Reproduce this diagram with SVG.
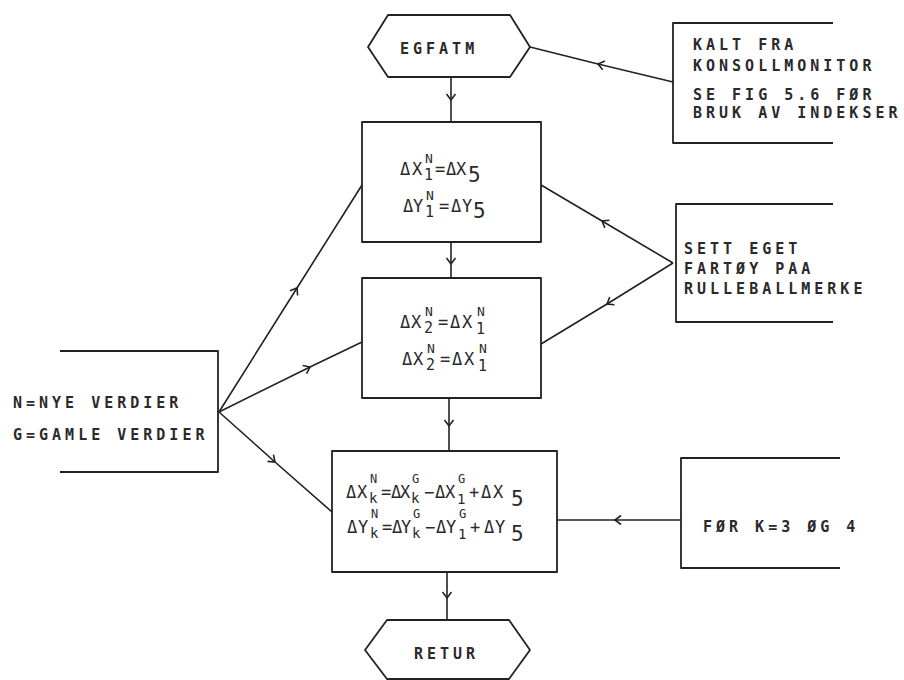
<svg xmlns="http://www.w3.org/2000/svg" width="904" height="680" viewBox="0 0 904 680">
<defs>
<style>
.shape{fill:none;stroke:#222;stroke-width:1.8;stroke-linejoin:round}
.conn{fill:none;stroke:#222;stroke-width:1.6}
.t{font-family:"DejaVu Sans Mono","Liberation Mono",monospace;font-size:15px;font-weight:bold;letter-spacing:4px;fill:#2a2a2a}
.f{font-family:"DejaVu Sans Mono","Liberation Mono",monospace;font-size:17px;fill:#2a2a2a}
.b{font-family:"DejaVu Sans Mono","Liberation Mono",monospace;font-size:15px;fill:#2a2a2a}
.k{font-family:"DejaVu Sans Mono","Liberation Mono",monospace;font-size:14px;fill:#2a2a2a}
.s{font-family:"DejaVu Sans Mono","Liberation Mono",monospace;font-size:13px;fill:#2a2a2a}
.r{font-family:"DejaVu Sans Mono","Liberation Mono",monospace;font-size:12px;fill:#2a2a2a}
.g{font-family:"DejaVu Sans Mono","Liberation Mono",monospace;font-size:21px;fill:#2a2a2a}
</style>
<marker id="v" markerUnits="userSpaceOnUse" markerWidth="14" markerHeight="14" viewBox="-8 -7 14 14" refX="0" refY="0" orient="auto">
<path d="M -6 -4.5 L 0 0 L -6 4.5" fill="none" stroke="#222" stroke-width="1.6"/>
</marker>
</defs>
<rect width="904" height="680" fill="#fff"/>

<g id="connectors">
<polyline class="conn" marker-mid="url(#v)" points="451,77 451,100 451,122"/>
<polyline class="conn" marker-mid="url(#v)" points="451,242 451,264 451,278"/>
<polyline class="conn" marker-mid="url(#v)" points="449,398 449,426 449,451"/>
<polyline class="conn" marker-mid="url(#v)" points="447,572 447,598 447,620"/>
<polyline class="conn" marker-mid="url(#v)" points="673,82 598,64 530,47"/>
<polyline class="conn" marker-mid="url(#v)" points="673,263 602,221 541,185"/>
<polyline class="conn" marker-mid="url(#v)" points="673,263 607,304 541,344"/>
<polyline class="conn" marker-mid="url(#v)" points="681,520 615,520 557,520"/>
<polyline class="conn" marker-mid="url(#v)" points="219,412 297,288 362,185"/>
<polyline class="conn" marker-mid="url(#v)" points="219,412 310,367 362,342"/>
<polyline class="conn" marker-mid="url(#v)" points="219,412 275,462 332,512"/>
</g>

<g id="egfatm">
<path class="shape" d="M388 15 L510 15 L530 47 L510 77 L388 77 L368 47 Z"/>
<text class="t" x="400" y="54">EGFATM</text>
</g>

<g id="box1">
<rect class="shape" x="362" y="122" width="179" height="120"/>
<text class="f" x="400 412" y="175">ΔX</text>
<text class="b" x="424" y="180">1</text>
<text class="s" x="425" y="163">N</text>
<text class="f" x="435 446 456" y="175">=ΔX</text>
<text class="g" x="468" y="182">5</text>
<text class="f" x="403 413" y="212">ΔY</text>
<text class="b" x="425" y="217">1</text>
<text class="s" x="426" y="200">N</text>
<text class="f" x="439 451 462" y="212">=ΔY</text>
<text class="g" x="473" y="218">5</text>
</g>

<g id="box2">
<rect class="shape" x="362" y="278" width="179" height="120"/>
<text class="f" x="400 411" y="328">ΔX</text>
<text class="b" x="424" y="333">2</text>
<text class="s" x="425" y="316">N</text>
<text class="f" x="438 450 462" y="328">=ΔX</text>
<text class="s" x="477" y="316">N</text>
<text class="b" x="476" y="334">1</text>
<text class="f" x="402 413" y="365">ΔX</text>
<text class="b" x="426" y="370">2</text>
<text class="s" x="427" y="353">N</text>
<text class="f" x="440 452 464" y="365">=ΔX</text>
<text class="s" x="479" y="353">N</text>
<text class="b" x="478" y="371">1</text>
</g>

<g id="box3">
<rect class="shape" x="332" y="451" width="225" height="121"/>
<text class="f" x="346 357" y="498">ΔX</text>
<text class="k" x="369" y="503">k</text>
<text class="r" x="370" y="483">N</text>
<text class="f" x="381 391 400" y="498">=ΔX</text>
<text class="k" x="411" y="503">k</text>
<text class="r" x="412" y="483">G</text>
<text class="f" x="424 435 445" y="498">−ΔX</text>
<text class="k" x="457" y="504">1</text>
<text class="r" x="458" y="483">G</text>
<text class="f" x="469 481 493" y="498">+ΔX</text>
<text class="g" x="511" y="506">5</text>
<text class="f" x="347 358" y="533">ΔY</text>
<text class="k" x="370" y="538">k</text>
<text class="r" x="371" y="518">N</text>
<text class="f" x="382 392 401" y="533">=ΔY</text>
<text class="k" x="412" y="538">k</text>
<text class="r" x="413" y="518">G</text>
<text class="f" x="425 436 446" y="533">−ΔY</text>
<text class="k" x="458" y="539">1</text>
<text class="r" x="459" y="518">G</text>
<text class="f" x="470 484 495" y="533">+ΔY</text>
<text class="g" x="511" y="541">5</text>
</g>

<g id="retur">
<path class="shape" d="M387 620 L509 620 L530 650 L509 679 L387 679 L365 650 Z"/>
<text class="t" x="414" y="659">RETUR</text>
</g>

<g id="kalt">
<path class="shape" d="M833 23 L673 23 L673 143 L833 143"/>
<text class="t" x="693" y="50">KALT FRA</text>
<text class="t" x="693" y="71">KONSOLLMONITOR</text>
<text class="t" x="693" y="100">SE FIG 5.6 FØR</text>
<text class="t" x="693" y="118">BRUK AV INDEKSER</text>
</g>

<g id="sett">
<path class="shape" d="M833 204 L676 204 L676 322 L833 322"/>
<text class="t" x="684" y="254">SETT EGET</text>
<text class="t" x="684" y="274">FARTØY PAA</text>
<text class="t" x="684" y="294">RULLEBALLMERKE</text>
</g>

<g id="nye">
<path class="shape" d="M60 351 L218 351 L218 472 L60 472"/>
<text class="t" x="13" y="408">N=NYE VERDIER</text>
<text class="t" x="13" y="440">G=GAMLE VERDIER</text>
</g>

<g id="for">
<path class="shape" d="M840 458 L681 458 L681 568 L840 568"/>
<text class="t" x="703" y="532">FØR K=3 ØG 4</text>
</g>
</svg>
